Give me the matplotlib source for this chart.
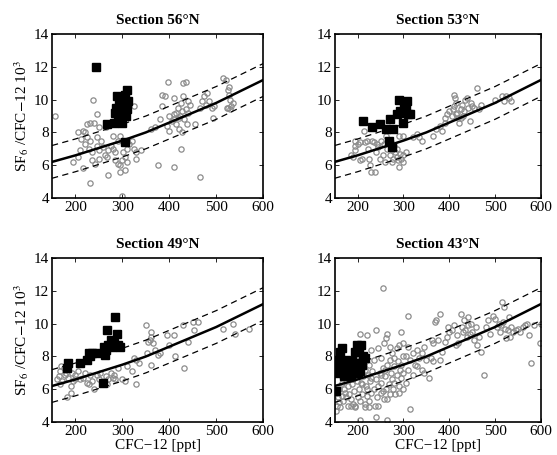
import matplotlib.pyplot as plt

plt.rcParams['font.family'] = ['Liberation Serif', 'DejaVu Serif']
plt.rcParams['mathtext.fontset'] = 'stix'

# fit curve and +/- 1 envelope
fit_x = [150, 200, 250, 300, 350, 400, 450, 500, 550, 600]
fit_y = [6.2, 6.6, 7.05, 7.5, 8.0, 8.6, 9.2, 9.8, 10.5, 11.2]
fit_hi = [7.2, 7.6, 8.05, 8.5, 9.0, 9.6, 10.2, 10.8, 11.5, 12.2]
fit_lo = [5.2, 5.6, 6.05, 6.5, 7.0, 7.6, 8.2, 8.8, 9.5, 10.2]

# Section 56N
c56 = [(157, 9.0), (210, 6.9), (205, 6.5), (195, 6.2), (215, 5.8), (230, 4.9), (225, 7.7), (220, 8.0),
       (215, 8.1), (225, 8.5), (232, 8.6), (240, 8.6), (238, 10.0), (245, 9.1), (250, 8.3), (245, 7.7),
       (230, 7.5), (220, 7.3), (228, 7.0), (235, 6.8), (245, 7.2), (250, 6.9), (255, 7.5), (250, 6.4),
       (242, 6.1), (235, 6.3), (258, 7.1), (262, 6.6), (268, 6.5), (270, 6.9), (275, 7.2), (280, 7.0),
       (285, 6.8), (290, 7.5), (295, 7.8), (285, 6.3), (290, 6.1), (295, 6.0), (300, 6.3), (305, 6.5),
       (310, 7.0), (315, 7.3), (320, 7.5), (325, 7.0), (330, 6.8), (302, 6.8), (310, 6.2), (305, 5.7),
       (295, 5.6), (300, 4.1), (270, 5.4), (300, 7.5), (325, 9.6), (330, 6.4), (340, 6.9), (280, 7.8),
       (265, 8.3), (212, 7.6), (205, 8.0), (375, 6.0), (410, 5.9), (465, 5.3), (385, 10.3), (390, 10.2),
       (398, 11.1), (410, 10.1), (380, 8.8), (385, 9.6), (395, 8.4), (400, 8.1), (405, 8.7), (410, 9.1),
       (415, 8.5), (418, 9.5), (420, 8.2), (422, 9.0), (425, 9.8), (428, 9.3), (430, 11.0), (435, 11.1),
       (430, 10.2), (432, 8.8), (435, 9.4), (438, 8.5), (440, 9.9), (425, 7.0), (428, 8.0), (445, 9.7),
       (415, 9.2), (420, 8.9), (410, 8.8), (440, 9.2), (360, 8.2), (370, 8.3), (400, 9.0), (455, 8.5),
       (465, 9.5), (475, 10.2), (480, 10.4), (478, 9.7), (485, 9.9), (495, 9.6), (490, 9.5), (493, 8.9),
       (470, 9.9), (515, 11.3), (520, 11.2), (525, 10.6), (528, 10.3), (530, 10.0), (525, 9.5), (530, 9.4),
       (535, 9.8), (522, 9.5), (528, 10.8), (532, 9.6)]
s56 = [(243, 12.0), (268, 8.5), (282, 8.6), (286, 9.5), (288, 10.2), (292, 9.8), (295, 9.3), (290, 8.9),
       (298, 8.8), (300, 10.0), (302, 9.6), (304, 9.2), (306, 10.3), (308, 9.0), (310, 10.6), (300, 8.6),
       (295, 10.0), (303, 9.8), (312, 9.9), (285, 9.2), (305, 7.4), (310, 9.4), (298, 9.0)]

# Section 53N
c53 = [(185, 6.6), (190, 6.5), (195, 7.2), (195, 6.9), (200, 7.3), (205, 6.3), (210, 6.4), (213, 8.1),
       (215, 7.4), (220, 7.5), (222, 7.0), (225, 6.4), (228, 6.0), (230, 5.6), (232, 7.5), (235, 7.4),
       (238, 5.6), (240, 6.8), (242, 7.3), (245, 7.1), (248, 6.4), (250, 7.5), (255, 6.6), (258, 7.3),
       (260, 6.2), (262, 7.8), (265, 7.0), (270, 6.6), (272, 7.4), (275, 6.9), (278, 6.4), (280, 7.2),
       (282, 6.8), (285, 6.5), (288, 6.3), (290, 5.9), (292, 6.7), (295, 6.4), (298, 6.2), (300, 6.6),
       (305, 6.8), (290, 7.8), (298, 7.8), (285, 7.0), (275, 6.2), (330, 7.9), (335, 7.7), (340, 7.5),
       (320, 7.7), (365, 7.8), (370, 8.2), (380, 8.4), (385, 8.1), (390, 8.6), (395, 9.1), (390, 8.9),
       (400, 9.3), (405, 9.0), (410, 10.3), (412, 10.1), (410, 9.6), (415, 9.8), (418, 9.2), (420, 8.9),
       (422, 8.6), (425, 9.4), (428, 9.7), (430, 9.0), (432, 9.3), (435, 10.0), (438, 10.1), (440, 9.5),
       (445, 8.7), (448, 9.8), (450, 9.6), (455, 9.5), (460, 10.7), (465, 9.4), (470, 9.7), (415, 9.1),
       (408, 9.4), (425, 8.9), (500, 10.0), (515, 10.2), (520, 9.9), (525, 10.2), (530, 10.1), (535, 9.9),
       (195, 7.5), (205, 7.4)]
s53 = [(212, 8.7), (232, 8.3), (248, 8.5), (262, 8.2), (268, 7.5), (270, 8.8), (275, 7.1), (278, 8.2),
       (285, 9.1), (290, 10.0), (292, 9.3), (298, 9.2), (300, 8.6), (302, 9.6), (305, 9.4), (308, 9.9),
       (310, 9.1), (315, 9.1)]

# Section 49N
c49 = [(160, 6.6), (165, 6.8), (168, 7.1), (170, 7.4), (172, 6.5), (175, 7.3), (178, 6.9), (180, 7.0),
       (182, 5.5), (185, 6.7), (190, 6.2), (190, 5.8), (193, 7.0), (195, 6.5), (198, 6.9), (200, 6.6),
       (205, 7.1), (210, 6.6), (215, 6.7), (220, 7.0), (225, 6.4), (228, 6.3), (230, 6.9), (235, 6.5),
       (240, 6.0), (245, 6.9), (250, 6.6), (252, 7.0), (260, 6.5), (265, 6.8), (268, 6.3), (270, 6.6),
       (275, 7.0), (280, 6.7), (282, 6.9), (285, 6.6), (290, 7.3), (300, 6.6), (305, 6.5), (310, 7.4),
       (320, 7.1), (325, 7.9), (328, 7.8), (330, 6.3), (335, 7.6), (350, 9.9), (352, 8.2), (355, 8.9),
       (358, 9.0), (360, 9.5), (362, 9.2), (360, 7.5), (365, 8.8), (370, 8.4), (375, 8.1), (380, 8.2),
       (395, 9.3), (400, 8.7), (410, 9.3), (412, 8.0), (430, 9.9), (432, 7.3), (440, 8.9), (450, 10.1),
       (452, 9.6), (462, 10.1), (515, 9.7), (535, 10.0), (540, 9.4), (570, 9.7), (168, 6.3)]
s49 = [(182, 7.3), (185, 7.6), (210, 7.6), (225, 7.8), (228, 8.2), (235, 8.2), (245, 8.2), (258, 6.4),
       (262, 8.1), (265, 8.4), (268, 9.6), (270, 8.7), (275, 9.0), (278, 8.6), (282, 8.8), (285, 10.4),
       (288, 9.4), (290, 8.7), (295, 8.6), (230, 8.0), (260, 8.6)]

# Section 43N
c43 = [(152, 4.7), (155, 5.0), (158, 5.5), (160, 5.2), (162, 4.9), (165, 5.6), (168, 5.3), (170, 6.0),
       (172, 5.8), (175, 5.5), (178, 6.2), (180, 5.0), (182, 5.7), (185, 5.4), (188, 6.3), (190, 5.1),
       (192, 5.9), (195, 5.0), (198, 6.5), (200, 5.5), (202, 6.0), (205, 4.1), (205, 5.3), (208, 6.4),
       (210, 5.7), (212, 6.8), (215, 5.1), (218, 6.2), (220, 5.6), (222, 6.9), (225, 5.3), (228, 6.5),
       (230, 5.8), (232, 7.1), (235, 6.0), (238, 5.0), (240, 6.6), (240, 4.3), (242, 5.5), (245, 6.2),
       (248, 7.0), (250, 5.8), (252, 6.4), (255, 7.3), (258, 5.4), (260, 6.8), (262, 6.0), (264, 4.1),
       (265, 7.5), (268, 6.3), (270, 5.7), (272, 7.0), (275, 6.6), (278, 6.0), (280, 7.4), (282, 5.7),
       (285, 6.9), (288, 7.7), (290, 6.2), (292, 7.2), (295, 6.7), (298, 8.0), (300, 7.0), (175, 6.8),
       (185, 7.1), (195, 7.5), (200, 8.1), (205, 9.4), (220, 9.3), (230, 8.4), (240, 9.6), (245, 8.5),
       (255, 12.2), (258, 8.8), (262, 9.1), (265, 9.4), (270, 8.6), (275, 8.2), (280, 7.9), (285, 8.5),
       (290, 8.7), (295, 9.5), (300, 8.8), (310, 10.5), (315, 4.8), (250, 7.9), (235, 7.8), (225, 7.5),
       (215, 7.2), (210, 6.3), (165, 6.4), (160, 6.0), (155, 5.8), (190, 6.6), (200, 6.9), (220, 6.0),
       (230, 6.7), (250, 6.9), (260, 7.2), (270, 7.8), (245, 5.0), (225, 4.9), (215, 4.9), (195, 4.9),
       (185, 5.0), (255, 5.9), (265, 5.4), (280, 6.4), (290, 5.8), (300, 6.0), (305, 6.4), (310, 7.2),
       (315, 7.8), (320, 8.2), (325, 7.5), (330, 8.4), (335, 7.9), (340, 7.2), (345, 7.0), (310, 8.6),
       (305, 8.0), (295, 7.5), (320, 6.9), (330, 7.4), (350, 7.8), (355, 6.7), (360, 7.9), (362, 9.0),
       (365, 8.8), (368, 10.1), (370, 10.2), (375, 9.0), (380, 10.6), (385, 8.3), (390, 8.9), (395, 9.2),
       (398, 9.8), (400, 9.5), (405, 9.6), (410, 9.9), (415, 8.7), (418, 9.3), (420, 8.8), (425, 10.6),
       (428, 9.8), (430, 9.5), (432, 10.2), (435, 9.6), (438, 9.2), (440, 10.4), (442, 9.9), (445, 9.4),
       (448, 10.0), (450, 9.5), (455, 9.0), (458, 9.8), (460, 8.7), (465, 9.2), (470, 8.3), (475, 6.9),
       (480, 9.8), (485, 10.2), (490, 9.4), (495, 10.5), (500, 10.3), (505, 9.8), (508, 10.0), (510, 9.5),
       (512, 9.9), (515, 11.3), (518, 10.1), (520, 11.0), (522, 9.7), (525, 9.1), (528, 9.6), (530, 10.4),
       (532, 9.2), (535, 9.8), (540, 9.5), (545, 9.6), (550, 9.7), (555, 9.5), (560, 9.8), (565, 9.9),
       (570, 10.0), (575, 9.3), (578, 7.6), (585, 9.9), (598, 8.8), (600, 10.0), (380, 7.8), (365, 7.7),
       (345, 8.6), (340, 8.2)]
s43 = [(152, 5.9), (155, 7.0), (158, 7.8), (160, 7.4), (162, 8.3), (165, 8.5), (168, 7.0), (170, 6.8),
       (172, 7.3), (175, 7.8), (178, 7.1), (180, 6.9), (182, 7.5), (185, 7.2), (188, 7.7), (190, 7.0),
       (192, 7.4), (195, 8.3), (198, 8.7), (200, 7.6), (202, 8.4), (205, 7.1), (208, 8.7), (210, 7.5),
       (212, 8.0), (215, 7.9), (170, 7.6), (160, 7.1), (185, 6.8), (200, 7.0)]

panels = [
    ('Section 56°N', c56, s56, [0.0934, 0.565, 0.379, 0.360]),
    ('Section 53°N', c53, s53, [0.601, 0.565, 0.370, 0.360]),
    ('Section 49°N', c49, s49, [0.0934, 0.0725, 0.379, 0.360]),
    ('Section 43°N', c43, s43, [0.601, 0.0725, 0.370, 0.360]),
]

fig = plt.figure(figsize=(5.57, 4.55), dpi=100)

for i, (title, circ, sq, pos) in enumerate(panels):
    ax = fig.add_axes(pos)
    ax.plot([p[0] for p in circ], [p[1] for p in circ], 'o', mfc='none', mec='#8c8c8c',
            ms=3.8, mew=0.9, zorder=2)
    ax.plot([p[0] for p in sq], [p[1] for p in sq], 's', color='black', ms=5.2, zorder=3)
    ax.plot(fit_x, fit_y, '-', color='black', lw=1.8, zorder=4)
    ax.plot(fit_x, fit_hi, '--', color='black', lw=0.9, dashes=(5, 3.5), zorder=4)
    ax.plot(fit_x, fit_lo, '--', color='black', lw=0.9, dashes=(5, 3.5), zorder=4)

    ax.set_xlim(150, 600)
    ax.set_ylim(4, 14)
    ax.set_xticks([200, 300, 400, 500, 600])
    ax.set_yticks([4, 6, 8, 10, 12, 14])
    ax.tick_params(direction='in', top=True, right=True, length=3, width=0.6,
                   labelsize=11, pad=2)
    for sp in ax.spines.values():
        sp.set_linewidth(1.2)
    ax.set_title(title, fontsize=11, fontweight='bold', pad=7)
    if i % 2 == 0:
        ax.set_ylabel(r'SF$_6$ /CFC$-$12 10$^3$', fontsize=11, labelpad=2)
    if i >= 2:
        ax.set_xlabel('CFC−12 [ppt]', fontsize=11, labelpad=1)

fig.savefig('out.png', dpi=100)
